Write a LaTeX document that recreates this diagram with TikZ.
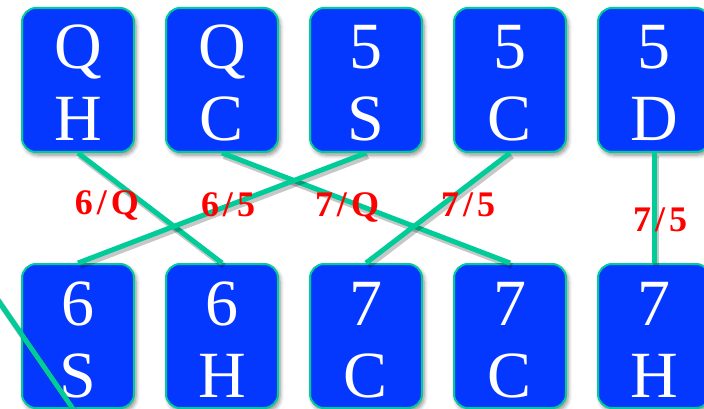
\documentclass[tikz,border=0pt]{standalone}
\usepackage{fontspec}
\setmainfont{Liberation Serif}
\usetikzlibrary{shadows.blur}
\definecolor{cardblue}{RGB}{5,56,255}
\definecolor{seam}{RGB}{0,204,153}
\tikzset{
  card/.style={draw=seam, line width=2pt, fill=cardblue, rounded corners=14pt,
    minimum width=112pt, minimum height=144pt, inner sep=0pt,
    blur shadow={shadow xshift=2pt, shadow yshift=-3pt, shadow blur steps=6,
      shadow blur radius=4pt, shadow opacity=45}},
  rank/.style={text=white, font=\fontsize{66}{66}\selectfont, inner sep=0pt, anchor=base},
  link/.style={draw=seam, line width=5pt,
    preaction={draw=black, draw opacity=0.22, line width=6pt,
      transform canvas={xshift=2pt, yshift=-3pt}}},
  tag/.style={text=red, font=\fontsize{36}{36}\selectfont\bfseries, inner sep=0pt}
}
% a card: name, centre, rank, suit
\newcommand\playcard[4]{%
  \node[card] (#1) at (#2) {};
  \node[rank] (#1-r) at ([yshift=11pt]#1.center) {#3};
  \node[rank] (#1-s) at ([yshift=-61pt]#1.center) {#4};
}
% a move label with slightly opened spacing
\newcommand\mv[2]{#1\kern4pt/\kern4pt#2}
\begin{document}
\begin{tikzpicture}[x=1pt, y=-1pt]
  \useasboundingbox (0,0) rectangle (704,409);
  \clip (0,0) rectangle (704,409);
  % top row
  \playcard{qh}{78,80}{Q}{H}
  \playcard{qc}{222,80}{Q}{C}
  \playcard{fs}{366,80}{5}{S}
  \playcard{fc}{510,80}{5}{C}
  \playcard{fd}{654,80}{5}{D}
  % bottom row
  \playcard{xs}{78,336}{6}{S}
  \playcard{xh}{222,336}{6}{H}
  \playcard{sc}{366,336}{7}{C}
  \playcard{tc}{510,336}{7}{C}
  \playcard{sh}{654,336}{7}{H}
  % moves
  \draw[link] (qh.south) -- (xh.north);
  \draw[link] (qc.south) -- (tc.north);
  \draw[link] (fs.south) -- (xs.north);
  \draw[link] (fc.south) -- (sc.north);
  \draw[link] (fd.south) -- (sh.north);
  \coordinate (inA) at (-20,274);
  \coordinate (inB) at (80,419);
  \draw[link] (inA) -- (inB);
  % move labels
  \node[tag] (m1) at (107,205) {\mv{6}{Q}};
  \node[tag] (m2) at (228,205) {\mv{6}{5}};
  \node[tag] (m3) at (347,207) {\mv{7}{Q}};
  \node[tag] (m4) at (468,205) {\mv{7}{5}};
  \node[tag] (m5) at (660,220) {\mv{7}{5}};
\end{tikzpicture}
\end{document}
